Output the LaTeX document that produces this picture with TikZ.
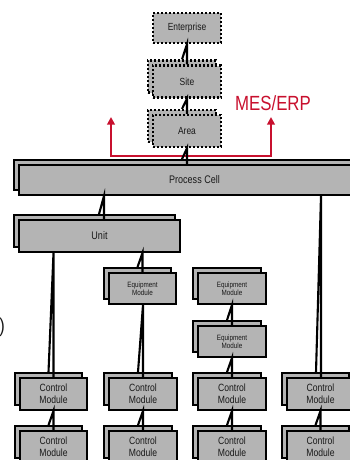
\documentclass[tikz,border=0pt]{standalone}
\usepackage{fontspec}
\setmainfont{Liberation Sans}[FakeStretch=0.82]
\usetikzlibrary{calc,arrows.meta}
\definecolor{mesred}{RGB}{200,16,46}
\definecolor{boxgray}{RGB}{180,180,180}
\definecolor{txt}{RGB}{25,25,25}
\tikzset{
  box/.style={draw=black, fill=boxgray, line width=1.8pt, inner sep=0pt, text=txt, align=center},
  dotbox/.style={box, dash pattern=on 2pt off 2pt, line width=2.2pt},
  conn/.style={line width=2.1pt, black},
  mesline/.style={line width=2pt, mesred, {Triangle[width=7.5pt,length=7.5pt]}-{Triangle[width=7.5pt,length=7.5pt]}},
  fA/.style={font=\fontsize{10.3}{12}\selectfont},
  fB/.style={font=\fontsize{11}{13}\selectfont},
  fEM/.style={font=\fontsize{7.7}{8.2}\selectfont},
  fCM/.style={font=\fontsize{10.5}{12}\selectfont},
}
% stacked box: style, name, x, y, w, h, text
\newcommand\stk[7]{%
  \node[#1, minimum width=#5pt, minimum height=#6pt] at (#3-5,#4-5) {};
  \node[#1, minimum width=#5pt, minimum height=#6pt] (#2) at (#3,#4) {#7};}
% link: parent, child, dx
\newcommand\lnk[3]{%
  \path ($(#2.north)+(#3,0)$) coordinate (lkB) ($(#2.north)+(#3-5,-5)$) coordinate (lkS);
  \draw[conn] (lkB) -- (lkB |- #1.south) -- (lkS);}
\begin{document}
\begin{tikzpicture}[x=1pt,y=-1pt]
\useasboundingbox (0,0) rectangle (350,460);
\clip (0,0) rectangle (350,460);

% red MES/ERP link
\coordinate (mesL) at (111,117);
\coordinate (mesR) at (271,117);
\coordinate (redL) at (111,156);
\coordinate (redR) at (271,156);
\draw[mesline] (mesL) -- (redL) -- (redR) -- (mesR);
\node[font=\fontsize{20.5}{24}\selectfont, text=mesred, inner sep=0pt] (mes) at (273,103) {MES/ERP};

% left-edge fragment
\node[font=\fontsize{20}{24}\selectfont, text=txt, inner sep=0pt, anchor=east] (paren) at (5,327) {)};

% hierarchy
\node[dotbox, fA, minimum width=68pt, minimum height=30pt] (ent) at (187,28) {Enterprise};
\stk{dotbox,fA}{site}{187}{81.5}{68}{32}{Site}
\stk{dotbox,fA}{area}{187}{131}{68}{32}{Area}
\stk{box,fB}{pc}{194.5}{180}{351}{30}{Process Cell}
\stk{box,fB}{unit}{99.5}{236}{161}{32}{Unit}
\stk{box,fEM}{em1}{142.5}{288.5}{67}{31}{Equipment\\Module}
\stk{box,fEM}{em2}{232}{288.5}{68}{31}{Equipment\\Module}
\stk{box,fEM}{em3}{232}{341.5}{68}{31}{Equipment\\Module}
\stk{box,fCM}{cma}{53.5}{394}{67}{32}{Control\\Module}
\stk{box,fCM}{cmb}{143}{394}{68}{32}{Control\\Module}
\stk{box,fCM}{cmc}{232}{394}{68}{32}{Control\\Module}
\stk{box,fCM}{cmd}{320.5}{394}{67}{32}{Control\\Module}
\stk{box,fCM}{cme}{53.5}{447}{67}{32}{Control\\Module}
\stk{box,fCM}{cmf}{143}{447}{68}{32}{Control\\Module}
\stk{box,fCM}{cmg}{232}{447}{68}{32}{Control\\Module}
\stk{box,fCM}{cmh}{320.5}{447}{67}{32}{Control\\Module}

% connectors
\lnk{ent}{site}{0}
\lnk{site}{area}{0}
\lnk{area}{pc}{-7.5}
\lnk{pc}{unit}{4.5}
\lnk{pc}{cmd}{0.5}
\lnk{unit}{cma}{0}
\lnk{unit}{em1}{0}
\lnk{em1}{cmb}{0}
\lnk{em2}{em3}{0}
\lnk{em3}{cmc}{0}
\lnk{cma}{cme}{0}
\lnk{cmb}{cmf}{0}
\lnk{cmc}{cmg}{0}
\lnk{cmd}{cmh}{0}
\end{tikzpicture}
\end{document}
